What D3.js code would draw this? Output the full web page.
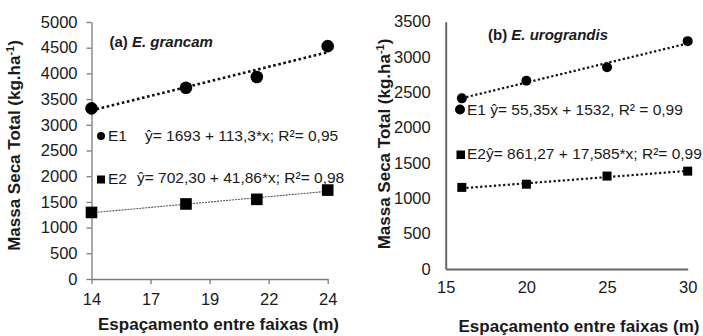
<!DOCTYPE html>
<html>
<head>
<meta charset="utf-8">
<script src="https://cdn.jsdelivr.net/npm/d3@7"></script>
<style>
  html, body { margin: 0; padding: 0; background: #fff; }
  svg { display: block; font-family: "Liberation Sans", Arial, sans-serif; }
</style>
</head>
<body>
<svg id="chart" width="703" height="336"></svg>
<script>
// Panel (a) E. grancam
const spacingA = [14, 18, 21, 24];
const grancamE1 = [3320, 3720, 3930, 4530];
const grancamE2 = [1295, 1460, 1550, 1730];
const fitA1 = [1693, 113.3];     // intercept, slope
const fitA2 = [702.30, 41.86];
const xTicksA = [14, 16.5, 19, 21.5, 24];
const xTickLabelsA = ["14", "17", "19", "22", "24"];
const yTicksA = [0, 500, 1000, 1500, 2000, 2500, 3000, 3500, 4000, 4500, 5000];

// Panel (b) E. urograndis
const spacingB = [16, 20, 25, 30];
const urograndisE1 = [2415, 2665, 2855, 3225];
const urograndisE2 = [1155, 1200, 1315, 1385];
const fitB1 = [1532, 55.35];
const fitB2 = [861.27, 17.585];
const xTicksB = [15, 20, 25, 30];
const yTicksB = [0, 500, 1000, 1500, 2000, 2500, 3000, 3500];

const svg = d3.select("#chart");
const ink = "#1a1a1a";
const plain = d3.format("d");

function fitLine(fit, x0, x1) {
  return [[x0, fit[0] + fit[1] * x0], [x1, fit[0] + fit[1] * x1]];
}

// ---------- Panel (a) ----------
const xA = d3.scaleLinear().domain([14, 24]).range([91.5, 327.7]);
const yA = d3.scaleLinear().domain([0, 5000]).range([279, 22]);
const gA = svg.append("g");

const axYA = gA.append("g").attr("transform", `translate(${xA.range()[0]},0)`)
  .call(d3.axisLeft(yA).tickValues(yTicksA).tickFormat(plain)
    .tickSize(5).tickPadding(9).tickSizeOuter(0));
const axXA = gA.append("g").attr("transform", `translate(0,${yA(0)})`)
  .call(d3.axisBottom(xA).tickValues(xTicksA).tickFormat((d, i) => xTickLabelsA[i])
    .tickSize(5).tickPadding(9).tickSizeOuter(0));
[axYA, axXA].forEach(ax => {
  ax.selectAll("path, line").attr("stroke", "#7a7a7a").attr("stroke-width", 1.3);
  ax.selectAll("text").attr("fill", ink).style("font-size", "16.5px");
});

const lineA = d3.line().x(d => xA(d[0])).y(d => yA(d[1]));
gA.append("path").attr("d", lineA(fitLine(fitA1, 14, 24)))
  .attr("fill", "none").attr("stroke", "#111").attr("stroke-width", 2.6)
  .attr("stroke-dasharray", "2.6,2.6");
gA.append("path").attr("d", lineA(fitLine(fitA2, 14, 24)))
  .attr("fill", "none").attr("stroke", "#555").attr("stroke-width", 1.1)
  .attr("stroke-dasharray", "2,1");

gA.selectAll("circle.e1").data(spacingA).join("circle")
  .attr("cx", d => xA(d)).attr("cy", (d, i) => yA(grancamE1[i])).attr("r", 6.3).attr("fill", "#000");
const sqA = 11.6;
gA.selectAll("rect.e2").data(spacingA).join("rect")
  .attr("x", d => xA(d) - sqA / 2).attr("y", (d, i) => yA(grancamE2[i]) - sqA / 2)
  .attr("width", sqA).attr("height", sqA).attr("fill", "#000");

gA.append("text").attr("x", 109.5).attr("y", 46.5).attr("fill", ink)
  .style("font-size", "15px").style("font-weight", "bold")
  .call(t => { t.append("tspan").text("(a) "); t.append("tspan").style("font-style", "italic").text("E. grancam"); });

gA.append("circle").attr("cx", 101).attr("cy", 136).attr("r", 4).attr("fill", "#000");
gA.append("text").attr("x", 108).attr("y", 141).attr("fill", ink).style("font-size", "15.5px").text("E1");
gA.append("text").attr("x", 145).attr("y", 141).attr("fill", ink).style("font-size", "15.5px")
  .text("ŷ= 1693 + 113,3*x; R²= 0,95");
gA.append("rect").attr("x", 97).attr("y", 175.5).attr("width", 8).attr("height", 8).attr("fill", "#000");
gA.append("text").attr("x", 108).attr("y", 184).attr("fill", ink).style("font-size", "15.5px").text("E2");
gA.append("text").attr("x", 137).attr("y", 183).attr("fill", ink).style("font-size", "15.5px")
  .text("ŷ= 702,30 + 41,86*x; R²= 0,98");

gA.append("text").attr("transform", "translate(20,145.5) rotate(-90)")
  .attr("text-anchor", "middle").attr("fill", ink)
  .style("font-size", "17px").style("font-weight", "bold")
  .call(t => {
    t.append("tspan").text("Massa Seca Total (kg.ha");
    t.append("tspan").attr("dy", -6).style("font-size", "11px").text("-1");
    t.append("tspan").attr("dy", 6).text(")");
  });
gA.append("text").attr("x", 218.5).attr("y", 329.5).attr("text-anchor", "middle").attr("fill", ink)
  .style("font-size", "17px").style("font-weight", "bold").text("Espaçamento entre faixas (m)");

// ---------- Panel (b) ----------
const xB = d3.scaleLinear().domain([15, 30]).range([445.7, 687.7]);
const yB = d3.scaleLinear().domain([0, 3500]).range([269, 21.7]);
const gB = svg.append("g");

const axYB = gB.append("g").attr("transform", `translate(${xB.range()[0]},0)`)
  .call(d3.axisLeft(yB).tickValues(yTicksB).tickFormat(plain)
    .tickSize(0).tickPadding(15).tickSizeOuter(0));
const axXB = gB.append("g").attr("transform", `translate(0,${yB(0)})`)
  .call(d3.axisBottom(xB).tickValues(xTicksB).tickFormat(plain)
    .tickSize(0).tickPadding(12).tickSizeOuter(0));
[axYB, axXB].forEach(ax => {
  ax.selectAll("path").attr("stroke", "#666").attr("stroke-width", 2);
  ax.selectAll("text").attr("fill", ink).style("font-size", "16.5px");
});

const lineB = d3.line().x(d => xB(d[0])).y(d => yB(d[1]));
gB.append("path").attr("d", lineB(fitLine(fitB1, 16, 30)))
  .attr("fill", "none").attr("stroke", "#111").attr("stroke-width", 2.2)
  .attr("stroke-dasharray", "2.2,2.4");
gB.append("path").attr("d", lineB(fitLine(fitB2, 16, 30)))
  .attr("fill", "none").attr("stroke", "#111").attr("stroke-width", 2.2)
  .attr("stroke-dasharray", "2.2,2.4");

gB.selectAll("circle.e1").data(spacingB).join("circle")
  .attr("cx", d => xB(d)).attr("cy", (d, i) => yB(urograndisE1[i])).attr("r", 5).attr("fill", "#000");
const sqB = 9;
gB.selectAll("rect.e2").data(spacingB).join("rect")
  .attr("x", d => xB(d) - sqB / 2).attr("y", (d, i) => yB(urograndisE2[i]) - sqB / 2)
  .attr("width", sqB).attr("height", sqB).attr("fill", "#000");

gB.append("text").attr("x", 488).attr("y", 39.5).attr("fill", ink)
  .style("font-size", "15px").style("font-weight", "bold")
  .call(t => { t.append("tspan").text("(b) "); t.append("tspan").style("font-style", "italic").text("E. urograndis"); });

gB.append("circle").attr("cx", 460).attr("cy", 109.5).attr("r", 5).attr("fill", "#000");
gB.append("text").attr("x", 467).attr("y", 115).attr("fill", ink).style("font-size", "15.5px")
  .text("E1 ŷ= 55,35x + 1532, R² = 0,99");
gB.append("rect").attr("x", 456.5).attr("y", 150.5).attr("width", 8.5).attr("height", 8.5).attr("fill", "#000");
gB.append("text").attr("x", 467).attr("y", 158.5).attr("fill", ink).style("font-size", "15.5px")
  .text("E2ŷ= 861,27 + 17,585*x; R²= 0,99");

gB.append("text").attr("transform", "translate(390,144) rotate(-90)")
  .attr("text-anchor", "middle").attr("fill", ink)
  .style("font-size", "17px").style("font-weight", "bold")
  .call(t => {
    t.append("tspan").text("Massa Seca Total (kg.ha");
    t.append("tspan").attr("dy", -6).style("font-size", "11px").text("-1");
    t.append("tspan").attr("dy", 6).text(")");
  });
gB.append("text").attr("x", 579).attr("y", 331.5).attr("text-anchor", "middle").attr("fill", ink)
  .style("font-size", "17px").style("font-weight", "bold").text("Espaçamento entre faixas (m)");
</script>
</body>
</html>
